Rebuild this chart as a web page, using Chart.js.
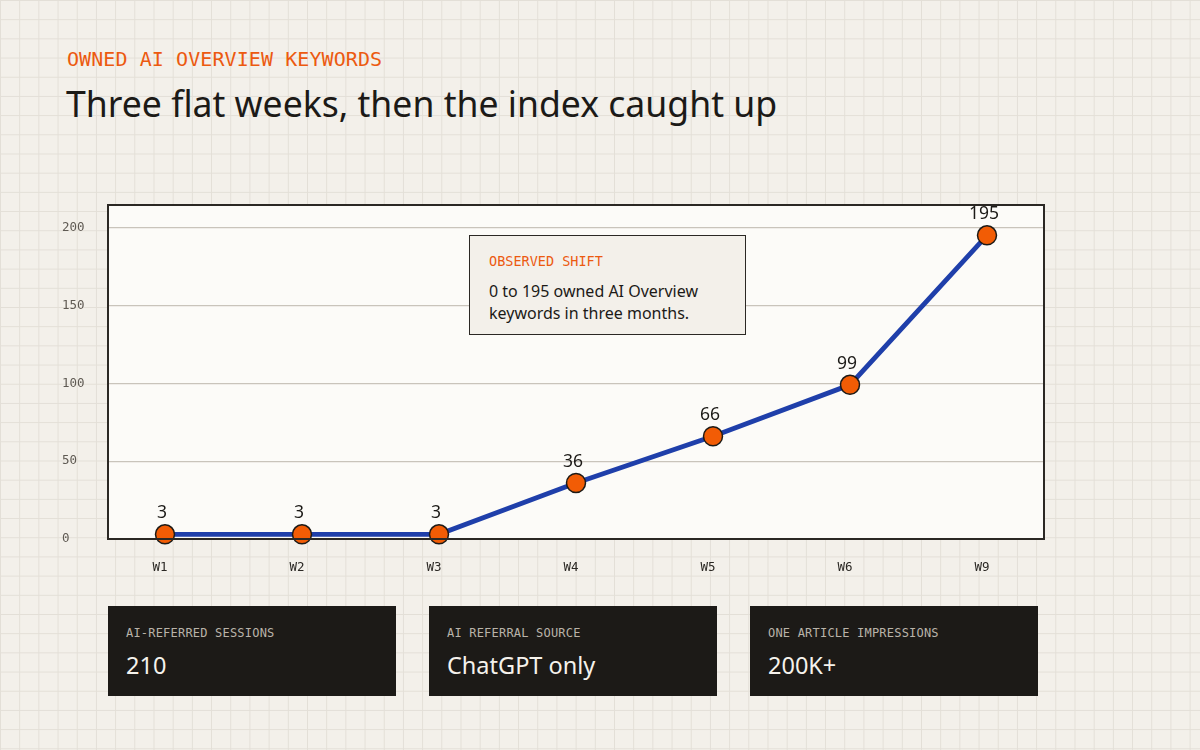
<!DOCTYPE html>
<html>
<head>
<meta charset="utf-8">
<script src="https://cdn.jsdelivr.net/npm/chart.js@4/dist/chart.umd.min.js"></script>
<style>
  html, body { margin:0; padding:0; }
  body {
    width:1200px; height:750px; overflow:hidden; position:relative;
    background-color:#f3f0ea;
    background-image:
      linear-gradient(to right, #e3dfd7 1px, transparent 1px),
      linear-gradient(to bottom, #e3dfd7 1px, transparent 1px);
    background-size:19.2px 19.2px;
    font-family:"Noto Sans", sans-serif;
  }
  .kicker { position:absolute; left:67px; top:46px; font-family:"DejaVu Sans Mono", monospace; font-size:20px; letter-spacing:0.08px; color:#ec5a10; line-height:26px; }
  .title { position:absolute; left:66px; top:78px; font-size:35.6px; color:#1c1a17; line-height:50px; }
  #wrap { position:absolute; left:0; top:190px; width:1200px; height:400px; }
  .note { position:absolute; left:469px; top:235px; width:275px; height:98px; background:#f3f0ea; border:1.5px solid #2b2824; box-sizing:content-box; }
  .note .h { position:absolute; left:19px; top:17px; font-family:"DejaVu Sans Mono", monospace; font-size:13.5px; color:#ec5a10; }
  .note .b { position:absolute; left:19px; top:44px; font-size:16px; line-height:22px; color:#1c1a17; }
  .card { position:absolute; top:606px; width:288px; height:90px; background:#1c1a17; }
  .card .l { position:absolute; left:18px; top:20px; font-family:"DejaVu Sans Mono", monospace; font-size:12px; color:#b9b3a9; letter-spacing:0.2px; }
  .card .v { position:absolute; left:18px; top:43px; font-size:23.5px; color:#f5f2ec; line-height:32px; }
</style>
</head>
<body>
<div class="kicker">OWNED AI OVERVIEW KEYWORDS</div>
<div class="title">Three flat weeks, then the index caught up</div>
<div id="wrap"><canvas id="c"></canvas></div>
<div class="note">
  <div class="h">OBSERVED SHIFT</div>
  <div class="b">0 to 195 owned AI Overview<br>keywords in three months.</div>
</div>
<div class="card" style="left:108px"><div class="l">AI-REFERRED SESSIONS</div><div class="v">210</div></div>
<div class="card" style="left:429px"><div class="l">AI REFERRAL SOURCE</div><div class="v">ChatGPT only</div></div>
<div class="card" style="left:750px"><div class="l">ONE ARTICLE IMPRESSIONS</div><div class="v">200K+</div></div>
<script>
const weeks = ["W1", "W2", "W3", "W4", "W5", "W6", "W9"];
const keywords = [3, 3, 3, 36, 66, 99, 195];
const yTicks = [0, 50, 100, 150, 200];

const points = weeks.map((w, i) => ({ x: i, y: keywords[i] }));

const framePlugin = {
  id: 'frame',
  beforeDraw(chart) {
    const { ctx, chartArea: a } = chart;
    ctx.save();
    ctx.fillStyle = '#fcfbf8';
    ctx.fillRect(a.left, a.top, a.right - a.left, a.bottom - a.top);
    ctx.restore();
  },
  afterDraw(chart) {
    const { ctx, chartArea: a } = chart;
    ctx.save();
    ctx.strokeStyle = '#2b2824';
    ctx.lineWidth = 2;
    ctx.strokeRect(a.left, a.top, a.right - a.left, a.bottom - a.top);
    ctx.restore();
  }
};

const labelPlugin = {
  id: 'valueLabels',
  afterDatasetsDraw(chart) {
    const { ctx } = chart;
    const meta = chart.getDatasetMeta(0);
    ctx.save();
    ctx.font = '17.5px "Noto Sans"';
    ctx.fillStyle = '#1c1a17';
    ctx.textAlign = 'center';
    ctx.textBaseline = 'middle';
    meta.data.forEach((el, i) => {
      ctx.fillText(String(keywords[i]), el.x - 3, el.y - 21);
    });
    ctx.restore();
  }
};

new Chart(document.getElementById('c'), {
  type: 'line',
  data: {
    datasets: [{
      data: points,
      borderColor: '#1f3faa',
      borderWidth: 4.8,
      pointRadius: 9.5,
      pointHoverRadius: 9.5,
      pointBackgroundColor: '#f25c05',
      pointBorderColor: '#1c1a17',
      pointBorderWidth: 1.5,
      tension: 0,
      clip: false
    }]
  },
  options: {
    responsive: true,
    maintainAspectRatio: false,
    animation: false,
    events: [],
    layout: { padding: { left: 62, right: 156, top: 15, bottom: 11 } },
    plugins: { legend: { display: false }, tooltip: { enabled: false } },
    scales: {
      x: {
        type: 'linear',
        min: -0.416,
        max: weeks.length - 1 + 0.416,
        afterBuildTicks(scale) { scale.ticks = weeks.map((w, i) => ({ value: i })); },
        afterFit(scale) { scale.height = 40; },
        grid: { display: false },
        border: { display: false },
        ticks: {
          callback: (v) => weeks[v],
          padding: 13,
          labelOffset: -5,
          maxRotation: 0,
          autoSkip: false,
          color: '#2b2824',
          font: { family: 'DejaVu Sans Mono', size: 12.5 }
        }
      },
      y: {
        min: 0,
        max: 214.5,
        afterBuildTicks(scale) { scale.ticks = yTicks.map(v => ({ value: v })); },
        afterFit(scale) { scale.width = 46; },
        grid: { color: '#c9c4bb', lineWidth: 1.2, drawTicks: false },
        border: { display: false },
        ticks: {
          crossAlign: 'far',
          padding: 0,
          color: '#5f5a53',
          font: { family: 'DejaVu Sans Mono', size: 12.5 }
        }
      }
    }
  },
  plugins: [framePlugin, labelPlugin]
});
</script>
</body>
</html>
